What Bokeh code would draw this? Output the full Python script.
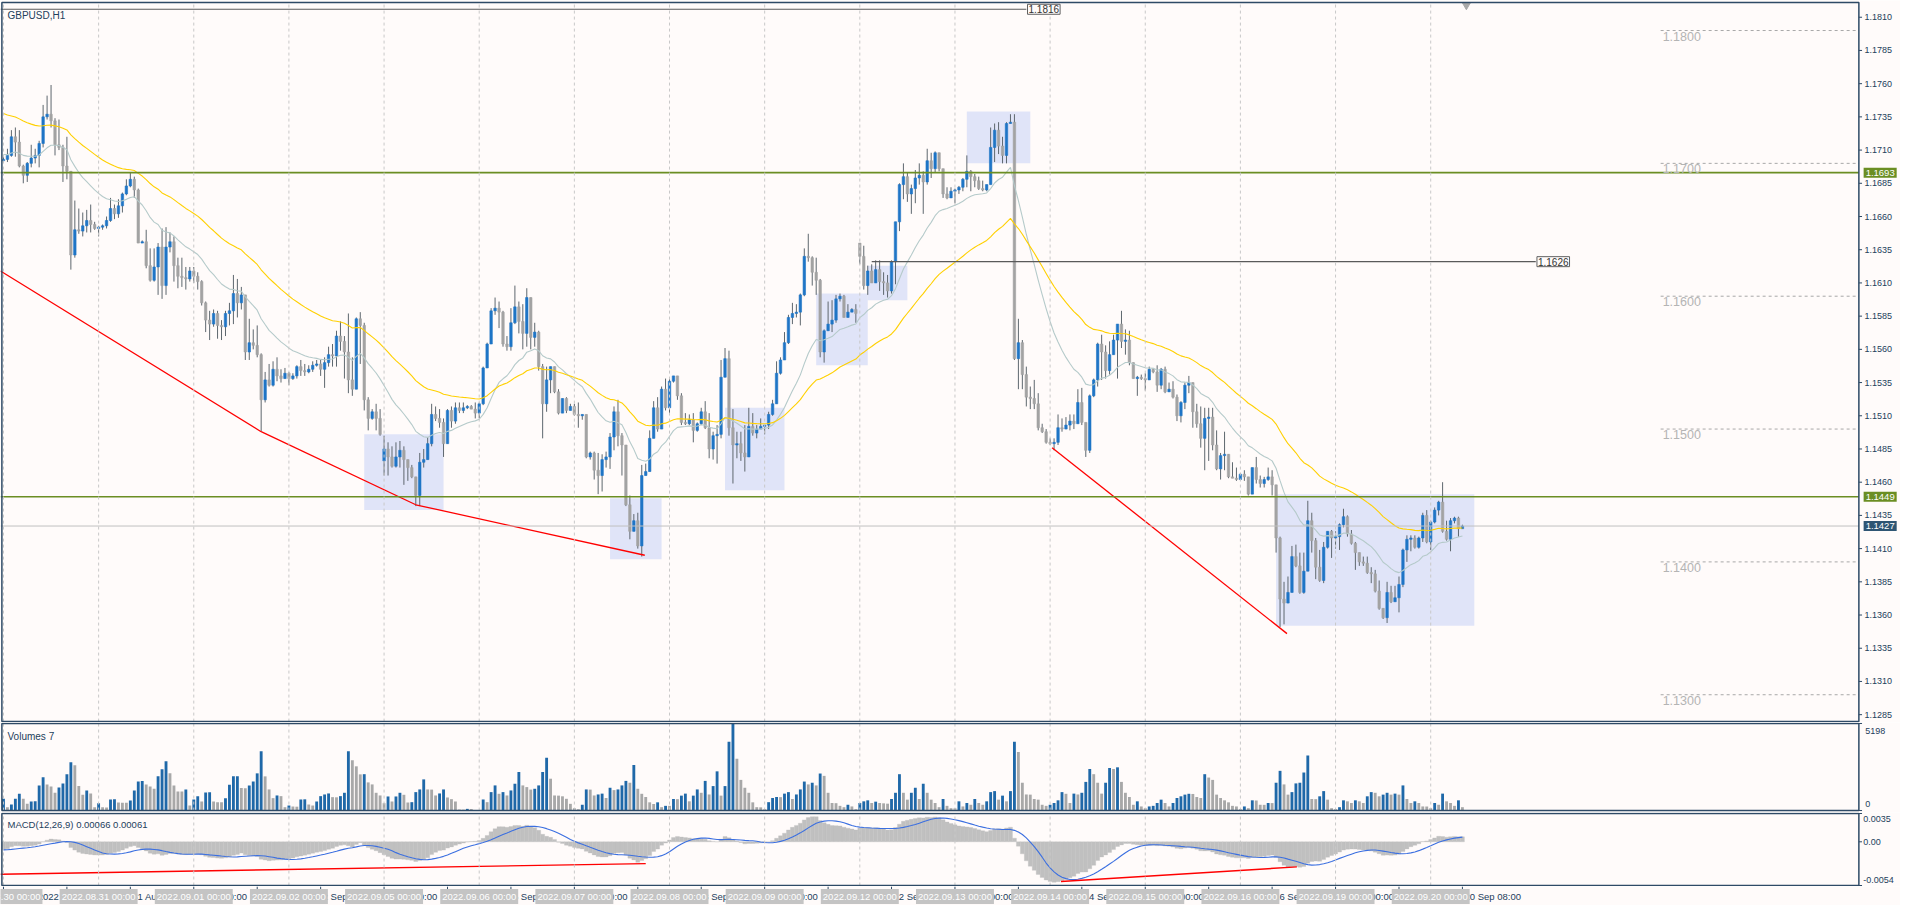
import numpy as np
from datetime import datetime, timedelta
from bokeh.plotting import figure
from bokeh.layouts import column
from bokeh.models import Range1d, Label, ColumnDataSource
from bokeh.core.properties import value
from bokeh.embed import file_html
from bokeh.resources import INLINE

# ---------------- data (GBPUSD, H1) ----------------
trading_days = ["2022.08.30", "2022.08.31", "2022.09.01", "2022.09.02", "2022.09.05",
                "2022.09.06", "2022.09.07", "2022.09.08", "2022.09.09", "2022.09.12",
                "2022.09.13", "2022.09.14", "2022.09.15", "2022.09.16", "2022.09.19",
                "2022.09.20"]
bars_per_day = 24

close = [
 1.1703,1.1706,1.1720,1.1716,1.1698,1.1691,1.1700,1.1704,1.1706,1.1715,1.1735,1.1737,1.1732,1.1714,1.1712,1.1698,1.1694,1.1631,1.1650,1.1649,1.1653,1.1657,1.1654,1.1651,
 1.1652,1.1653,1.1657,1.1666,1.1662,1.1668,1.1677,1.1683,1.1688,1.1680,1.1640,1.1641,1.1623,1.1612,1.1622,1.1637,1.1608,1.1637,1.1641,1.1623,1.1615,1.1614,1.1613,1.1619,
 1.1615,1.1611,1.1595,1.1582,1.1579,1.1587,1.1578,1.1577,1.1587,1.1589,1.1602,1.1595,1.1601,1.1558,1.1565,1.1563,1.1556,1.1522,1.1537,1.1533,1.1545,1.1540,1.1538,1.1542,
 1.1538,1.1540,1.1547,1.1544,1.1543,1.1545,1.1548,1.1549,1.1545,1.1550,1.1556,1.1555,1.1570,1.1566,1.1558,1.1537,1.1530,1.1583,1.1578,1.1522,1.1508,1.1513,1.1508,1.1496,
 1.1485,1.1479,1.1472,1.1479,1.1484,1.1477,1.1471,1.1464,1.1450,1.1475,1.1477,1.1489,1.1511,1.1508,1.1505,1.1489,1.1514,1.1506,1.1516,1.1514,1.1516,1.1517,1.1515,1.1512,
 1.1519,1.1546,1.1564,1.1589,1.1591,1.1588,1.1564,1.1562,1.1580,1.1592,1.1581,1.1572,1.1599,1.1569,1.1573,1.1547,1.1519,1.1537,1.1547,1.1528,1.1512,1.1523,1.1514,1.1517,
 1.1511,1.1510,1.1511,1.1479,1.1482,1.1469,1.1465,1.1477,1.1479,1.1494,1.1513,1.1495,1.1488,1.1443,1.1423,1.1431,1.1412,1.1465,1.1468,1.1493,1.1516,1.1500,1.1530,1.1516,
 1.1536,1.1540,1.1525,1.1505,1.1504,1.1507,1.1499,1.1504,1.1513,1.1501,1.1485,1.1495,1.1496,1.1539,1.1553,1.1501,1.1488,1.1489,1.1482,1.1479,1.1502,1.1497,1.1500,1.1502,
 1.1503,1.1511,1.1519,1.1542,1.1552,1.1565,1.1584,1.1587,1.1588,1.1601,1.1630,1.1629,1.1618,1.1612,1.1558,1.1574,1.1579,1.1582,1.1598,1.1600,1.1584,1.1588,1.1590,1.1587,
 1.1630,1.1608,1.1619,1.1610,1.1620,1.1611,1.1610,1.1604,1.1626,1.1656,1.1684,1.1690,1.1677,1.1681,1.1689,1.1691,1.1686,1.1702,1.1696,1.1708,1.1696,1.1677,1.1674,1.1679,
 1.1680,1.1682,1.1688,1.1694,1.1690,1.1687,1.1681,1.1680,1.1684,1.1712,1.1725,1.1713,1.1706,1.1730,1.1731,1.1553,1.1565,1.1541,1.1524,1.1523,1.1519,1.1501,1.1498,1.1490,
 1.1489,1.1490,1.1501,1.1500,1.1503,1.1506,1.1504,1.1520,1.1505,1.1484,1.1525,1.1537,1.1564,1.1558,1.1544,1.1556,1.1567,1.1579,1.1566,1.1567,1.1550,1.1538,1.1539,1.1538,
 1.1537,1.1545,1.1543,1.1533,1.1545,1.1528,1.1530,1.1524,1.1510,1.1520,1.1533,1.1535,1.1513,1.1504,1.1493,1.1508,1.1509,1.1488,1.1470,1.1480,1.1481,1.1464,1.1463,1.1462,
 1.1466,1.1464,1.1451,1.1471,1.1462,1.1459,1.1462,1.1464,1.1458,1.1418,1.1372,1.1369,1.1377,1.1404,1.1397,1.1377,1.1393,1.1431,1.1416,1.1396,1.1386,1.1411,1.1423,1.1418,
 1.1419,1.1428,1.1434,1.1421,1.1414,1.1407,1.1400,1.1399,1.1392,1.1391,1.1378,1.1365,1.1358,1.1377,1.1370,1.1373,1.1383,1.1409,1.1417,1.1418,1.1411,1.1418,1.1435,1.1415,
 1.1430,1.1439,1.1445,1.1423,1.1417,1.1431,1.1433,1.1425,1.1427]

high = [
 1.1705,1.1711,1.1725,1.1727,1.1725,1.1699,1.1701,1.1714,1.1711,1.1717,1.1744,1.1751,1.1759,1.1734,1.1733,1.1714,1.1720,1.1694,1.1672,1.1666,1.1663,1.1665,1.1669,1.1656,
 1.1653,1.1654,1.1660,1.1674,1.1669,1.1673,1.1678,1.1688,1.1693,1.1690,1.1681,1.1642,1.1650,1.1636,1.1636,1.1640,1.1651,1.1652,1.1648,1.1645,1.1629,1.1629,1.1622,1.1622,
 1.1622,1.1618,1.1612,1.1596,1.1589,1.1590,1.1589,1.1582,1.1589,1.1595,1.1616,1.1613,1.1607,1.1601,1.1583,1.1575,1.1578,1.1557,1.1543,1.1549,1.1551,1.1554,1.1545,1.1546,
 1.1543,1.1542,1.1548,1.1552,1.1549,1.1548,1.1551,1.1552,1.1552,1.1554,1.1562,1.1564,1.1574,1.1581,1.1570,1.1587,1.1554,1.1584,1.1588,1.1580,1.1524,1.1515,1.1519,1.1515,
 1.1495,1.1490,1.1487,1.1490,1.1491,1.1487,1.1477,1.1473,1.1464,1.1482,1.1485,1.1494,1.1519,1.1517,1.1515,1.1508,1.1515,1.1517,1.1520,1.1520,1.1520,1.1518,1.1518,1.1520,
 1.1520,1.1547,1.1565,1.1591,1.1599,1.1596,1.1589,1.1570,1.1591,1.1608,1.1596,1.1594,1.1606,1.1599,1.1580,1.1574,1.1549,1.1547,1.1547,1.1547,1.1530,1.1523,1.1524,1.1519,
 1.1519,1.1520,1.1511,1.1511,1.1483,1.1483,1.1482,1.1481,1.1483,1.1497,1.1517,1.1522,1.1497,1.1488,1.1450,1.1436,1.1437,1.1473,1.1474,1.1499,1.1521,1.1524,1.1532,1.1538,
 1.1538,1.1540,1.1540,1.1527,1.1512,1.1511,1.1512,1.1505,1.1516,1.1521,1.1512,1.1498,1.1503,1.1552,1.1561,1.1559,1.1515,1.1498,1.1498,1.1503,1.1516,1.1512,1.1503,1.1508,
 1.1503,1.1513,1.1522,1.1551,1.1554,1.1573,1.1586,1.1595,1.1594,1.1602,1.1636,1.1647,1.1630,1.1629,1.1613,1.1575,1.1596,1.1597,1.1601,1.1602,1.1601,1.1594,1.1591,1.1594,
 1.1640,1.1638,1.1623,1.1624,1.1627,1.1627,1.1618,1.1616,1.1627,1.1656,1.1685,1.1700,1.1693,1.1684,1.1695,1.1700,1.1694,1.1711,1.1708,1.1709,1.1708,1.1696,1.1682,1.1682,
 1.1681,1.1683,1.1689,1.1706,1.1695,1.1692,1.1690,1.1687,1.1684,1.1727,1.1730,1.1731,1.1720,1.1731,1.1737,1.1737,1.1583,1.1567,1.1547,1.1532,1.1537,1.1527,1.1504,1.1500,
 1.1493,1.1493,1.1511,1.1508,1.1509,1.1511,1.1511,1.1530,1.1531,1.1505,1.1526,1.1538,1.1565,1.1571,1.1563,1.1566,1.1571,1.1579,1.1589,1.1575,1.1574,1.1549,1.1540,1.1541,
 1.1542,1.1547,1.1546,1.1548,1.1546,1.1547,1.1535,1.1536,1.1526,1.1521,1.1535,1.1540,1.1533,1.1519,1.1517,1.1516,1.1516,1.1516,1.1499,1.1482,1.1498,1.1480,1.1475,1.1471,
 1.1467,1.1469,1.1463,1.1471,1.1479,1.1465,1.1464,1.1471,1.1469,1.1458,1.1419,1.1385,1.1389,1.1412,1.1413,1.1407,1.1407,1.1446,1.1437,1.1418,1.1409,1.1415,1.1423,1.1424,
 1.1423,1.1429,1.1440,1.1435,1.1424,1.1415,1.1405,1.1404,1.1404,1.1396,1.1394,1.1386,1.1365,1.1385,1.1382,1.1382,1.1389,1.1410,1.1420,1.1420,1.1420,1.1419,1.1437,1.1439,
 1.1431,1.1441,1.1446,1.1460,1.1431,1.1433,1.1434,1.1434,1.1428]

low = [
 1.1701,1.1701,1.1705,1.1705,1.1697,1.1685,1.1686,1.1697,1.1700,1.1697,1.1712,1.1733,1.1727,1.1706,1.1710,1.1686,1.1688,1.1620,1.1629,1.1647,1.1645,1.1648,1.1648,1.1650,
 1.1645,1.1650,1.1651,1.1656,1.1658,1.1659,1.1663,1.1676,1.1682,1.1674,1.1640,1.1640,1.1621,1.1611,1.1611,1.1601,1.1598,1.1601,1.1633,1.1611,1.1606,1.1607,1.1605,1.1611,
 1.1610,1.1605,1.1593,1.1573,1.1567,1.1577,1.1568,1.1567,1.1570,1.1578,1.1579,1.1584,1.1590,1.1552,1.1552,1.1560,1.1554,1.1498,1.1520,1.1532,1.1532,1.1536,1.1535,1.1538,
 1.1533,1.1537,1.1538,1.1540,1.1540,1.1542,1.1543,1.1547,1.1540,1.1531,1.1547,1.1547,1.1547,1.1559,1.1538,1.1527,1.1525,1.1530,1.1549,1.1514,1.1499,1.1507,1.1499,1.1495,
 1.1465,1.1465,1.1471,1.1471,1.1471,1.1458,1.1461,1.1463,1.1442,1.1442,1.1471,1.1477,1.1487,1.1506,1.1501,1.1479,1.1497,1.1501,1.1504,1.1512,1.1512,1.1515,1.1515,1.1508,
 1.1508,1.1518,1.1546,1.1564,1.1586,1.1576,1.1562,1.1559,1.1559,1.1579,1.1572,1.1560,1.1562,1.1560,1.1562,1.1544,1.1493,1.1513,1.1527,1.1527,1.1511,1.1512,1.1512,1.1514,
 1.1510,1.1501,1.1507,1.1478,1.1477,1.1462,1.1451,1.1453,1.1471,1.1470,1.1484,1.1487,1.1465,1.1442,1.1417,1.1423,1.1410,1.1404,1.1465,1.1468,1.1493,1.1498,1.1500,1.1514,
 1.1512,1.1535,1.1522,1.1503,1.1503,1.1503,1.1490,1.1498,1.1503,1.1500,1.1478,1.1477,1.1474,1.1493,1.1539,1.1495,1.1459,1.1478,1.1476,1.1468,1.1479,1.1495,1.1493,1.1500,
 1.1496,1.1500,1.1510,1.1519,1.1541,1.1552,1.1564,1.1579,1.1584,1.1578,1.1600,1.1626,1.1608,1.1601,1.1554,1.1550,1.1574,1.1573,1.1580,1.1596,1.1584,1.1584,1.1589,1.1580,
 1.1624,1.1605,1.1601,1.1610,1.1610,1.1604,1.1601,1.1599,1.1602,1.1609,1.1649,1.1673,1.1671,1.1662,1.1670,1.1684,1.1662,1.1684,1.1689,1.1693,1.1694,1.1674,1.1673,1.1674,
 1.1670,1.1677,1.1679,1.1682,1.1679,1.1682,1.1680,1.1679,1.1679,1.1684,1.1701,1.1707,1.1700,1.1700,1.1730,1.1552,1.1530,1.1530,1.1517,1.1515,1.1515,1.1499,1.1497,1.1489,
 1.1488,1.1484,1.1488,1.1498,1.1500,1.1499,1.1500,1.1504,1.1503,1.1479,1.1482,1.1524,1.1532,1.1537,1.1538,1.1541,1.1556,1.1538,1.1561,1.1556,1.1548,1.1538,1.1525,1.1537,
 1.1529,1.1542,1.1542,1.1528,1.1530,1.1527,1.1529,1.1523,1.1506,1.1505,1.1515,1.1527,1.1501,1.1501,1.1486,1.1469,1.1476,1.1484,1.1469,1.1462,1.1469,1.1463,1.1463,1.1461,
 1.1462,1.1461,1.1450,1.1451,1.1459,1.1456,1.1456,1.1461,1.1450,1.1407,1.1351,1.1353,1.1370,1.1377,1.1396,1.1376,1.1376,1.1393,1.1407,1.1387,1.1385,1.1384,1.1410,1.1403,
 1.1410,1.1409,1.1426,1.1419,1.1413,1.1394,1.1397,1.1397,1.1391,1.1384,1.1377,1.1364,1.1357,1.1354,1.1369,1.1370,1.1362,1.1381,1.1400,1.1408,1.1410,1.1410,1.1415,1.1414,
 1.1409,1.1429,1.1435,1.1422,1.1416,1.1408,1.1429,1.1419,1.1425]

gap_opens = {0: 1.1702, 96: 1.1476, 216: 1.1640}   # opens that differ from previous close

volume = [
 700,200,360,700,1000,700,400,540,560,1500,1980,1560,1440,1060,1380,1620,2160,2880,2700,1460,940,1200,1020,200,
 440,200,180,660,680,480,470,460,600,1200,1740,1760,1560,1440,1300,2040,2460,2940,2220,1500,1140,1130,1260,300,
 660,860,540,1080,1090,540,500,490,740,1540,2040,2050,1340,1330,1500,1740,2220,3540,2040,1260,740,900,860,200,
 300,240,230,660,670,360,300,540,860,960,1020,800,790,860,1060,3540,3000,2640,2160,2170,1680,1560,1060,900,
 440,840,540,840,1060,940,480,500,1100,1260,1860,1260,1250,900,1020,1260,780,680,540,60,50,100,90,20,
 10,660,500,1100,1500,1000,1100,900,1200,1600,2300,1500,1400,1250,1300,1500,2300,3150,1900,900,890,850,700,400,
 140,80,345,1260,1250,900,960,1010,750,1360,1220,1260,1500,1770,1660,2720,1300,1000,810,490,390,490,200,280,
 280,690,680,890,1010,550,890,1260,1060,1770,960,1460,2340,890,1460,4100,5198,3090,1830,1360,1060,490,200,190,
 80,500,750,810,800,1010,1100,690,960,1260,1730,1560,1660,1500,2210,2070,1060,450,440,280,200,345,245,80,
 450,550,610,450,530,450,430,410,690,1060,2170,1060,650,1060,1360,690,1600,1060,650,450,200,690,280,140,
 140,550,245,450,345,690,450,345,550,1100,1160,650,890,550,1160,4100,3490,1660,960,950,690,650,345,280,
 345,450,610,1100,1000,450,1010,960,1060,1710,2480,2170,1660,1010,1660,2540,2480,2580,1710,1060,810,345,550,245,
 140,245,280,450,650,450,245,450,750,850,950,1000,990,810,750,2170,1970,1830,950,750,610,490,280,245,
 80,245,140,610,600,345,340,450,445,1660,2370,1560,950,1100,1620,1660,2270,3290,690,680,850,1160,650,140,
 80,200,610,550,450,610,550,450,850,1100,1060,850,950,1060,950,1010,950,1500,690,450,550,450,245,240,
 140,450,345,1010,550,450,280,610,200]

# indicator settings and their values just before the first bar
ema_fast_period, ema_fast_seed = 20, 1.1707
ema_slow_period, ema_slow_seed = 50, 1.1739
macd_fast, macd_slow, macd_signal = 12, 26, 9
macd_ema_fast_seed, macd_ema_slow_seed, macd_signal_seed = 1.1698, 1.1709, -0.0010

price_ticks = [1.1285, 1.1310, 1.1335, 1.1360, 1.1385, 1.1410, 1.1435, 1.1460, 1.1485,
               1.1510, 1.1535, 1.1560, 1.1585, 1.1610, 1.1635, 1.1660, 1.1685, 1.1710,
               1.1735, 1.1760, 1.1785, 1.1810]
round_levels = [1.1300, 1.1400, 1.1500, 1.1600, 1.1700, 1.1800]
green_levels = [1.1693, 1.1449]
last_price = 1.1427
volume_max = 5198
macd_ticks = [0.0035, 0.0, -0.0054]
macd_tick_labels = ["0.0035", "0.00", "-0.0054"]
macd_title = "MACD(12,26,9) 0.00066 0.00061"

# drawn objects (bar index / price)
rect_left = [91, 153, 182, 205, 218, 243, 321]
rect_right = [111, 166, 197, 218, 228, 259, 371]
rect_top = [1.1496, 1.1448, 1.1516, 1.1602, 1.1623, 1.1739, 1.1451]
rect_bottom = [1.1439, 1.1402, 1.1454, 1.1548, 1.1597, 1.1700, 1.1352]

trend_x0 = [-0.75, 65, 104, 264.5]
trend_y0 = [1.1619, 1.1498, 1.1443, 1.1486]
trend_x1 = [65, 104, 161.75, 323.75]
trend_y1 = [1.1498, 1.1443, 1.1405, 1.1346]

macd_trend_x0 = [-0.75, 266.75]
macd_trend_y0 = [-0.0040, -0.0049]
macd_trend_x1 = [162, 326.25]
macd_trend_y1 = [-0.0027, -0.0031]

level_lines = [  # price, from bar, to bar, label
    (1.1816, -0.75, 258.0, "1.1816"),
    (1.1626, 219.0, 386.5, "1.1626"),
]
round_level_from_bar = 418.0
chart_shift_bar = 369

# ---------------- layout constants (bar / value space) ----------------
X_MIN, X_MAX = -0.75, 478.5       # whole window width incl. price scale
CHART_R = 468.0                    # right border of chart panels
MAIN_Y = (1.12791, 1.18226); MAIN_BOX = (1.12798, 1.18211)
VOL_Y = (-117, 5256); VOL_BOX = (0, 5198)
MACD_Y = (-0.005522, 0.003622); MACD_BOX = (-0.0054, 0.0035)
W = 1900
H_MAIN, H_VOL, H_MACD, H_TIME = 722, 90, 74, 19

# ---------------- derived series ----------------
n = min(len(close), len(high), len(low), len(volume))
c = np.array(close[:n]); h = np.array(high[:n]); l = np.array(low[:n])
vol = np.array(volume[:n], dtype=float)
o = np.array([gap_opens.get(i, close[i - 1] if i > 0 else close[0]) for i in range(n)])
h = np.maximum(h, np.maximum(o, c)); l = np.minimum(l, np.minimum(o, c))
x = np.arange(n)

def ema(vals, period, seed):
    a = 2.0 / (period + 1); e = seed; out = []
    for v in vals:
        e = e + a * (v - e); out.append(e)
    return np.array(out)

ema_fast = ema(c, ema_fast_period, ema_fast_seed)
ema_slow = ema(c, ema_slow_period, ema_slow_seed)
macd_main = ema(c, macd_fast, macd_ema_fast_seed) - ema(c, macd_slow, macd_ema_slow_seed)
padded = np.concatenate([np.full(macd_signal - 1, macd_signal_seed), macd_main])
macd_sig = np.convolve(padded, np.ones(macd_signal) / macd_signal, mode="valid")[:n]

BG = "#fffbfa"
BORDER = "#2e4a66"
BULL = "#1f75c6"
BEAR = "#a3a3a3"
WICK = "#5e676e"
VOL_UP = "#1f68a8"
VOL_DN = "#a8a8a8"
GRID = "#c8c8c8"
TXT = "#23405c"
GREEN = "#6b8e23"
FONT = "Liberation Sans"

up = c > o
body_top = np.maximum(o, c); body_bot = np.minimum(o, c)
tiny = (body_top - body_bot) < 0.00006
body_top = np.where(tiny, (o + c) / 2 + 0.00003, body_top)
body_bot = np.where(tiny, (o + c) / 2 - 0.00003, body_bot)
cand_color = np.where(up, BULL, BEAR)
vol_prev = np.concatenate([[-1.0], vol[:-1]])
vol_color = np.where(vol > vol_prev, VOL_UP, VOL_DN)

day_bars = [k * bars_per_day for k in range(len(trading_days)) if k * bars_per_day < n]
xr = Range1d(X_MIN, X_MAX)


def make_fig(hgt, yr):
    p = figure(width=W, height=hgt, x_range=xr, y_range=Range1d(*yr),
               output_backend="svg", toolbar_location=None,
               x_axis_location=None, y_axis_location=None,
               min_border=0, min_border_left=0, min_border_right=0,
               min_border_top=0, min_border_bottom=0,
               background_fill_color=BG, border_fill_color=BG, outline_line_color=None)
    p.xgrid.visible = False
    p.ygrid.visible = False
    return p


def panel_box(p, box):
    p.quad(left=[X_MIN + 0.35], right=[CHART_R], bottom=[box[0]], top=[box[1]],
           fill_color=None, line_color=BORDER, line_width=1.5)


def day_grid(p, box):
    p.segment(x0=day_bars, x1=day_bars, y0=[box[0]] * len(day_bars), y1=[box[1]] * len(day_bars),
              line_color=GRID, line_dash="3 3", line_width=1)


def scale_ticks(p, ys):
    p.segment(x0=[CHART_R] * len(ys), x1=[CHART_R + 0.8] * len(ys), y0=ys, y1=ys,
              line_color=BORDER, line_width=1)


def scale_text(p, ys, texts, xoff=1.4, size="9px"):
    p.text(x=[CHART_R + xoff] * len(ys), y=ys, text=texts, text_baseline="middle",
           text_align="left", text_color=TXT, text_font=value(FONT), text_font_size=size)

# ---------------- main price panel ----------------
pm = make_fig(H_MAIN, MAIN_Y)
pm.quad(left=rect_left, right=rect_right, top=rect_top, bottom=rect_bottom,
        fill_color="#dde1f7", fill_alpha=0.9, line_color=None)

src = ColumnDataSource(dict(x=x, h=h, l=l, top=body_top, bot=body_bot, col=cand_color))
pm.segment(x0="x", y0="l", x1="x", y1="h", source=src, line_color=WICK, line_width=1)
pm.vbar(x="x", width=0.62, top="top", bottom="bot", source=src,
        fill_color="col", line_color="col", line_width=0.6)

pm.line(x, ema_fast, line_color="#b5caca", line_width=1.1)
pm.line(x, ema_slow, line_color="#ffd000", line_width=1.1)

pm.segment(x0=trend_x0, y0=trend_y0, x1=trend_x1, y1=trend_y1, line_color="#ff0000", line_width=1.3)

pm.segment(x0=[X_MIN] * len(green_levels), x1=[CHART_R] * len(green_levels),
           y0=green_levels, y1=green_levels, line_color=GREEN, line_width=1.6)
pm.segment(x0=[X_MIN], x1=[CHART_R], y0=[last_price], y1=[last_price],
           line_color="#c0c0c0", line_width=1)

for price, xa, xb, txt in level_lines:
    pm.segment(x0=[xa], y0=[price], x1=[xb], y1=[price], line_color="#5a5a5a", line_width=1.2)
    pm.add_layout(Label(x=xb + 0.3, y=price, text=txt, text_baseline="middle", text_align="left",
                        text_font=FONT, text_font_size="10px", text_color="#333333",
                        background_fill_color=BG, border_line_color="#606060",
                        border_line_width=1, padding=1))

pm.segment(x0=[round_level_from_bar] * len(round_levels), y0=round_levels,
           x1=[CHART_R] * len(round_levels), y1=round_levels,
           line_color="#a8a8a8", line_dash="3 3", line_width=1)
pm.text(x=[round_level_from_bar + 0.5] * len(round_levels), y=round_levels,
        text=[f"{v:.4f}" for v in round_levels], text_baseline="top", y_offset=1,
        text_color="#b4b4b4", text_font=value(FONT), text_font_size="12.5px")

pm.scatter(x=[chart_shift_bar], y=[MAIN_BOX[1] - 0.0002], marker="inverted_triangle", size=8,
           fill_color="#a8a8a8", line_color="#a8a8a8")

day_grid(pm, MAIN_BOX)
panel_box(pm, MAIN_BOX)
scale_ticks(pm, price_ticks)
scale_text(pm, price_ticks, [f"{v:.4f}" for v in price_ticks])

pm.add_layout(Label(x=7, y=H_MAIN - 9, x_units="screen", y_units="screen", text="GBPUSD,H1",
                    text_baseline="top", text_font=FONT, text_font_size="10px", text_color=TXT))

for lv, colr in [(green_levels[0], GREEN), (green_levels[1], GREEN), (last_price, "#2e5573")]:
    pm.add_layout(Label(x=CHART_R + 1.2, y=lv, text=f"{lv:.4f}", text_baseline="middle",
                        text_align="left", text_font=FONT, text_font_size="9.5px",
                        text_color="white", background_fill_color=colr, padding=2))

# ---------------- volume panel ----------------
pv = make_fig(H_VOL, VOL_Y)
pv.vbar(x=x, width=0.72, top=vol, bottom=0, fill_color=vol_color, line_color=None)
day_grid(pv, VOL_BOX)
panel_box(pv, VOL_BOX)
scale_ticks(pv, [0, volume_max])
pv.text(x=[CHART_R + 1.6, CHART_R + 1.6], y=[volume_max, 0], text=[str(volume_max), "0"],
        text_baseline="middle", y_offset=[8, -7], text_color=TXT, text_font=value(FONT),
        text_font_size="9px")
pv.add_layout(Label(x=7, y=H_VOL - 8, x_units="screen", y_units="screen", text="Volumes 7",
                    text_baseline="top", text_font=FONT, text_font_size="10px", text_color=TXT))

# ---------------- MACD panel ----------------
pd_ = make_fig(H_MACD, MACD_Y)
pd_.vbar(x=x, width=1.0, top=macd_main, bottom=0, fill_color="#c0c0c0", line_color="#c0c0c0",
         line_width=0.3)
pd_.line(x, macd_sig, line_color="#3b6fe0", line_width=1.1)
pd_.segment(x0=macd_trend_x0, y0=macd_trend_y0, x1=macd_trend_x1, y1=macd_trend_y1,
            line_color="#ff0000", line_width=1.4)
day_grid(pd_, MACD_BOX)
panel_box(pd_, MACD_BOX)
scale_ticks(pd_, macd_ticks)
pd_.text(x=[CHART_R + 1.1] * 3, y=macd_ticks, text=macd_tick_labels, text_baseline="middle",
         y_offset=[6, 0, -6], text_color=TXT, text_font=value(FONT), text_font_size="9px")
pd_.add_layout(Label(x=7, y=H_MACD - 6, x_units="screen", y_units="screen", text=macd_title,
                     text_baseline="top", text_font=FONT, text_font_size="9.5px", text_color=TXT))

# ---------------- time scale ----------------
pt = make_fig(H_TIME, (0, H_TIME))
time_ticks = list(range(0, n, 16))
pt.segment(x0=time_ticks, x1=time_ticks, y0=[H_TIME] * len(time_ticks),
           y1=[H_TIME - 3] * len(time_ticks), line_color=BORDER, line_width=1)


def bar_time(i):
    d = datetime.strptime(trading_days[i // bars_per_day], "%Y.%m.%d")
    return d + timedelta(hours=i % bars_per_day)

tick_texts = []
for k in time_ticks:
    t = bar_time(k)
    tick_texts.append(f"{t.day} {t:%b} {t:%Y}" if k == 0 else f"{t.day} {t:%b} {t:%H:%M}")
pt.text(x=time_ticks, y=[H_TIME / 2 - 0.5] * len(time_ticks), text=tick_texts, x_offset=2,
        text_align="left", text_baseline="middle", text_color=TXT, text_font=value(FONT),
        text_font_size="9.5px")
for k, db in enumerate(day_bars):
    pt.add_layout(Label(x=db, y=H_TIME / 2 - 0.5, text=f"{trading_days[k]} 00:00",
                        text_align="center", text_baseline="middle", text_font=FONT,
                        text_font_size="9.5px", text_color="white",
                        background_fill_color="#c4c4c4", padding=2))

layout = column(pm, pv, pd_, pt, spacing=0)
open("out.html", "w").write(file_html(layout, INLINE))
